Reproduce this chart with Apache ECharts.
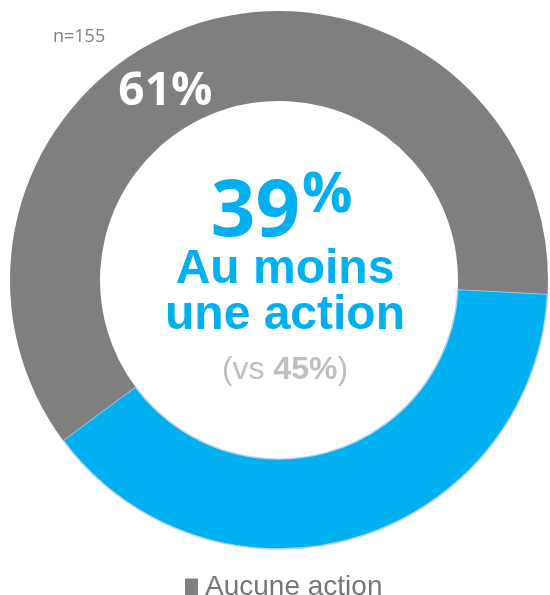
<!DOCTYPE html>
<html lang="fr" style="height: 100%">
<head>
  <meta charset="utf-8">
  <title>Au moins une action</title>
</head>
<body style="height: 100%; margin: 0; background: #fff">
  <div id="container" style="width: 550px; height: 595px"></div>

  <script type="text/javascript" src="https://cdn.jsdelivr.net/npm/echarts@6/dist/echarts.min.js"></script>
  <script type="text/javascript">
    // données
    var categories = ['Au moins une action', 'Aucune action'];
    var shares = [39, 61];
    var sliceColors = ['#00B0F0', '#7F7F7F'];
    var sampleSize = 155;
    var previousShare = 45;
    var mainLabel = ['Au moins', 'une action'];

    var dom = document.getElementById('container');
    var myChart = echarts.init(dom, null, { renderer: 'canvas' });

    var pieData = categories.map(function (name, i) {
      return {
        name: name,
        value: shares[i],
        itemStyle: i === 0
          ? { color: sliceColors[i], borderColor: '#c3d3e3', borderWidth: 1.5 }
          : { color: sliceColors[i], borderWidth: 0 },
        label: i === 0 ? { show: false } : {
          show: true,
          position: 'inside',
          formatter: '{c}%',
          color: '#fff',
          fontFamily: 'Open Sans',
          fontWeight: 'bold',
          fontSize: 46,
          offset: [-48, 29]
        }
      };
    });

    var option = {
      animation: false,
      color: sliceColors,
      legend: {
        data: [categories[1]],
        left: 180,
        top: 568,
        icon: 'rect',
        itemWidth: 13,
        itemHeight: 17,
        itemGap: 10,
        selectedMode: false,
        textStyle: { fontFamily: 'Liberation Sans', fontSize: 28, color: '#767676', padding: [0, 0, 0, 2] }
      },
      graphic: [
        { type: 'text', left: 53, top: 28,
          style: { text: 'n=' + sampleSize, font: '18px "Open Sans"', fill: '#808080' } },
        { type: 'text', x: 300, y: 214,
          style: { text: String(shares[0]), font: 'bold 78px "Open Sans"', fill: '#00B0F0',
                   textAlign: 'right', textVerticalAlign: 'middle' } },
        { type: 'text', x: 302, y: 196,
          style: { text: '%', font: 'bold 56px "Open Sans"', fill: '#00B0F0',
                   textAlign: 'left', textVerticalAlign: 'middle' } },
        { type: 'text', x: 285, y: 270,
          style: { text: mainLabel[0], font: 'bold 48px "Liberation Sans"', fill: '#00B0F0',
                   textAlign: 'center', textVerticalAlign: 'middle' } },
        { type: 'text', x: 285, y: 316,
          style: { text: mainLabel[1], font: 'bold 48px "Liberation Sans"', fill: '#00B0F0',
                   textAlign: 'center', textVerticalAlign: 'middle' } },
        { type: 'text', x: 285, y: 370,
          style: {
            text: '{n|(vs }{b|' + previousShare + '%}{n|)}',
            textAlign: 'center', textVerticalAlign: 'middle',
            fill: '#BFBFBF',
            rich: {
              n: { fontFamily: 'Liberation Sans', fontSize: 32, fill: '#BFBFBF' },
              b: { fontFamily: 'Liberation Sans', fontSize: 32, fontWeight: 'bold', fill: '#BFBFBF' }
            }
          } }
      ],
      series: [
        {
          type: 'pie',
          center: [279, 280],
          radius: [179, 269],
          startAngle: 357,
          clockwise: true,
          silent: true,
          labelLine: { show: false },
          emphasis: { disabled: true },
          data: pieData
        }
      ]
    };

    myChart.setOption(option);
    window.addEventListener('resize', myChart.resize);
  </script>
</body>
</html>
